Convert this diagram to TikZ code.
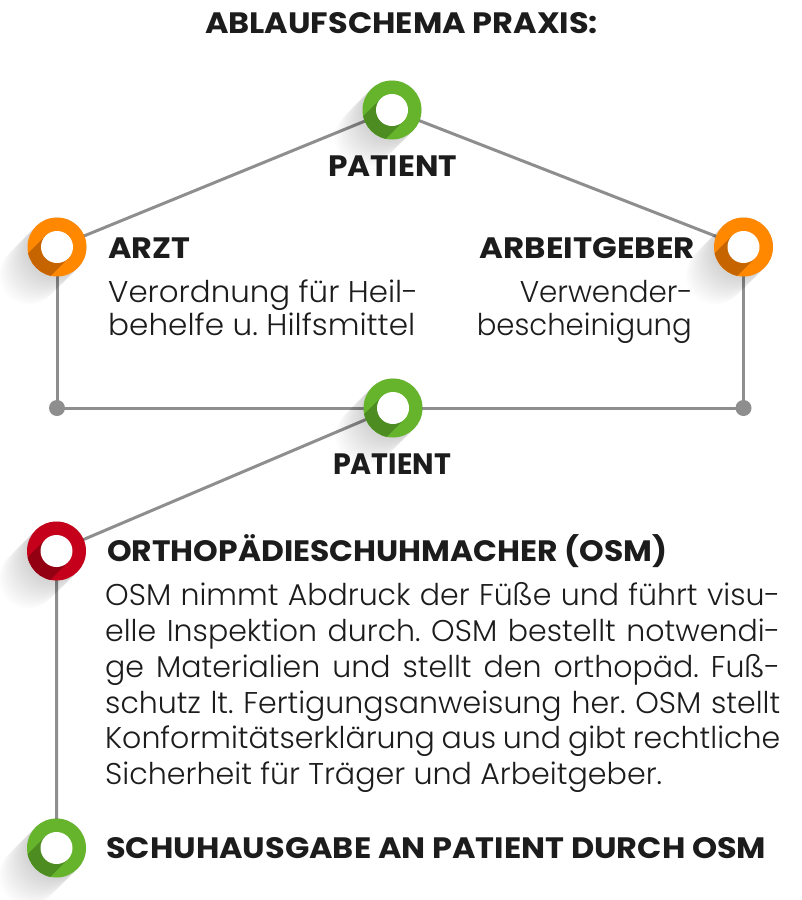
\documentclass[tikz,border=0pt]{standalone}
\usepackage{fontspec}
\setmainfont{Poppins}
\newfontfamily\lightfont{Poppins Light}
\usepackage{graphicx}
\usetikzlibrary{calc}
\frenchspacing
\definecolor{lgray}{HTML}{8E8E8E}
\definecolor{gmain}{HTML}{66B42C}
\definecolor{gdark}{HTML}{4C8C20}
\definecolor{omain}{HTML}{FF8800}
\definecolor{odark}{HTML}{C66500}
\definecolor{rmain}{HTML}{C4001A}
\definecolor{rdark}{HTML}{920012}
\definecolor{txt}{HTML}{1C1C1C}
\newcommand{\fitw}[2]{\resizebox{#1}{\height}{#2}}
\newcommand{\jline}[1]{\makebox[675pt][s]{#1}}
\newcommand{\ringdraw}[3]{%
  \foreach \k in {1,...,14}{\draw[black, draw opacity=0.013, line width=59pt, line cap=round] (#1.center) -- ++(-2.0*\k,2.0*\k);}
  \fill[#2] (#1.center) circle (29.5pt);
  \begin{scope}
    \clip (#1.center) circle (29.5pt);
    \draw[#3, line width=32pt] (#1.center) -- ++(-40,40);
  \end{scope}
  \fill[white] (#1.center) circle (16pt);
}
\tikzset{
  ringnode/.style={circle, minimum size=59pt, inner sep=0pt},
  dotnode/.style={circle, fill=lgray, minimum size=16pt, inner sep=0pt},
  conn/.style={draw=lgray, line width=3pt},
  head/.style={font=\bfseries\fontsize{29.5}{31}\selectfont, text=txt, inner sep=0pt},
  body/.style={font=\lightfont\fontsize{30}{32}\selectfont, text=txt, inner sep=0pt}
}
\begin{document}
\begin{tikzpicture}[x=1pt,y=-1pt]
\fill[white] (0,0) rectangle (802,900);
\useasboundingbox (0,0) rectangle (802,900);

% ring anchors
\node[ringnode] (top) at (392,110) {};
\node[ringnode] (arzt) at (57,247) {};
\node[ringnode] (arbeit) at (743.5,247) {};
\node[ringnode] (mid) at (393,408) {};
\node[ringnode] (osm) at (56.5,551) {};
\node[ringnode] (ausg) at (56.5,848) {};
\coordinate (ldot) at (57,408);
\coordinate (rdot) at (743.5,408);

% connectors
\draw[conn] (arzt.center) -- (top.center) -- (arbeit.center);
\draw[conn] (arzt.center) -- (ldot) -- (rdot) -- (arbeit.center);
\draw[conn] (mid.center) -- (osm.center) -- (ausg.center);
\node[dotnode] (ld) at (ldot) {};
\node[dotnode] (rd) at (rdot) {};

% rings
\ringdraw{top}{gmain}{gdark}
\ringdraw{arzt}{omain}{odark}
\ringdraw{arbeit}{omain}{odark}
\ringdraw{mid}{gmain}{gdark}
\ringdraw{osm}{rmain}{rdark}
\ringdraw{ausg}{gmain}{gdark}

% texts
\node[head, anchor=base] (title) at (401.5,33.5) {\fitw{393pt}{ABLAUFSCHEMA PRAXIS:}};
\node[head, anchor=base] (ptop) at (392.5,176) {\fitw{129pt}{PATIENT}};
\node[head, anchor=base west] (tarzt) at (108,258) {\fitw{82pt}{ARZT}};
\node[head, anchor=base east] (tarbeit) at (695,258) {\fitw{215pt}{ARBEITGEBER}};
\node[body, anchor=base west] (va) at (108,302) {\fitw{310pt}{Verordnung für Heil-}};
\node[body, anchor=base west] (vb) at (108,335) {\fitw{307pt}{behelfe u. Hilfsmittel}};
\node[body, anchor=base east] (wa) at (693,302) {\fitw{173pt}{Verwender-}};
\node[body, anchor=base east] (wb) at (692,335) {\fitw{215pt}{bescheinigung}};
\node[head, anchor=base] (pmid) at (392,474) {\fitw{118pt}{PATIENT}};
\node[head, anchor=base west] (tosm) at (107,561) {\fitw{560pt}{ORTHOPÄDIESCHUHMACHER (OSM)}};
\node[body, anchor=base west] (p1) at (105,605.5) {\jline{OSM nimmt Abdruck der Füße und führt visu-}};
\node[body, anchor=base west] (p2) at (105,641.5) {\jline{elle Inspektion durch. OSM bestellt notwendi-}};
\node[body, anchor=base west] (p3) at (105,677.5) {\jline{ge Materialien und stellt den orthopäd. Fuß-}};
\node[body, anchor=base west] (p4) at (105,713) {\jline{schutz lt. Fertigungsanweisung her. OSM stellt}};
\node[body, anchor=base west] (p5) at (105,748.5) {\jline{Konformitätserklärung aus und gibt rechtliche}};
\node[body, anchor=base west] (p6) at (105,784) {\fitw{557pt}{Sicherheit für Träger und Arbeitgeber.}};
\node[head, anchor=base west] (tausg) at (106,858.5) {\fitw{660pt}{SCHUHAUSGABE AN PATIENT DURCH OSM}};
\end{tikzpicture}
\end{document}
